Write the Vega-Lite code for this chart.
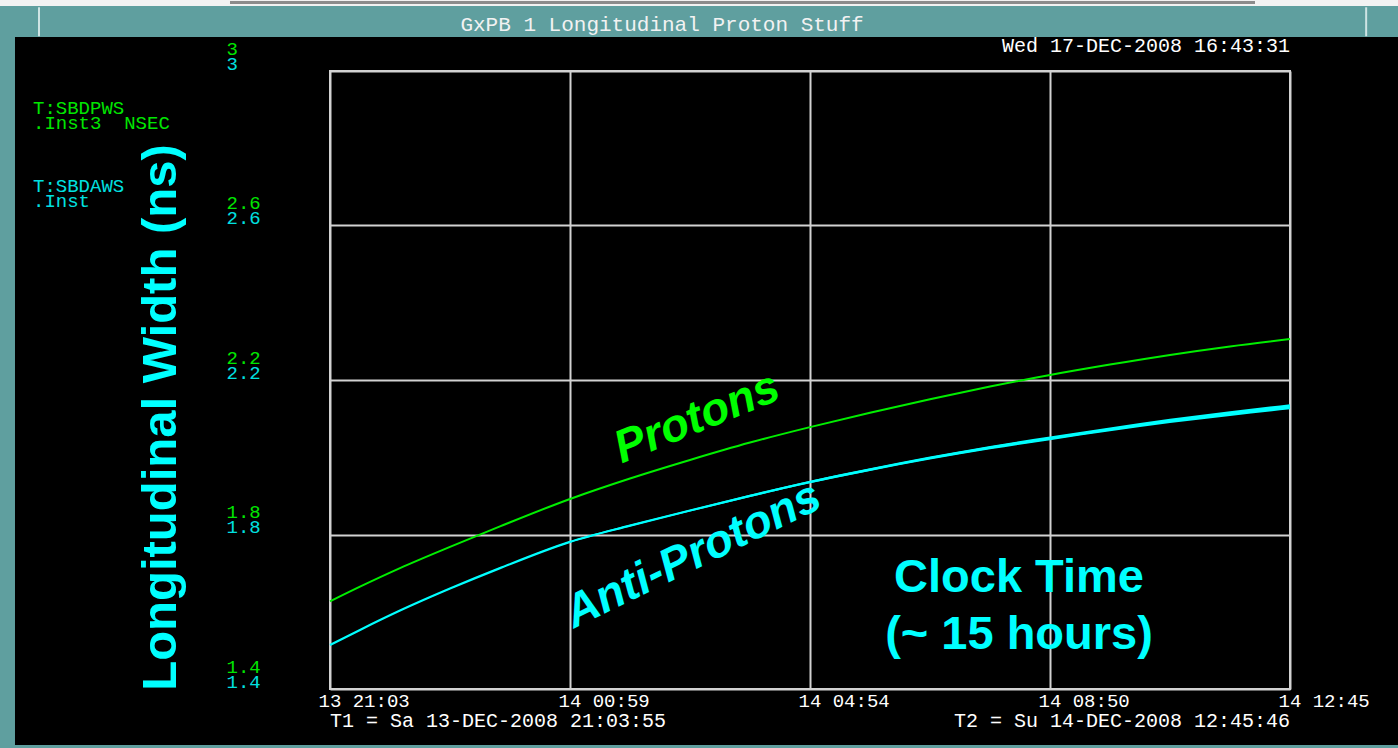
{
  "$schema": "https://vega.github.io/schema/vega-lite/v6.json",
  "width": 960,
  "height": 618,
  "autosize": {"type": "none"},
  "padding": {"left": 330, "top": 71, "right": 108, "bottom": 59},
  "background": "#000000",
  "config": {
    "view": {"stroke": "#d2d2d2", "strokeWidth": 2},
    "text": {"font": "Liberation Mono", "fontSize": 19}
  },
  "datasets": {
    "widths": [
      {"time": "2008-12-13T21:03:55Z", "beam": "Protons", "value": 1.627},
      {"time": "2008-12-13T21:33:21Z", "beam": "Protons", "value": 1.665},
      {"time": "2008-12-13T22:12:36Z", "beam": "Protons", "value": 1.713},
      {"time": "2008-12-13T23:01:39Z", "beam": "Protons", "value": 1.768},
      {"time": "2008-12-13T23:50:42Z", "beam": "Protons", "value": 1.821},
      {"time": "2008-12-14T00:59:23Z", "beam": "Protons", "value": 1.892},
      {"time": "2008-12-14T01:58:15Z", "beam": "Protons", "value": 1.945},
      {"time": "2008-12-14T02:57:07Z", "beam": "Protons", "value": 1.993},
      {"time": "2008-12-14T03:55:59Z", "beam": "Protons", "value": 2.038},
      {"time": "2008-12-14T04:54:51Z", "beam": "Protons", "value": 2.078},
      {"time": "2008-12-14T05:53:43Z", "beam": "Protons", "value": 2.115},
      {"time": "2008-12-14T06:52:35Z", "beam": "Protons", "value": 2.15},
      {"time": "2008-12-14T07:51:27Z", "beam": "Protons", "value": 2.183},
      {"time": "2008-12-14T08:50:18Z", "beam": "Protons", "value": 2.213},
      {"time": "2008-12-14T09:49:10Z", "beam": "Protons", "value": 2.24},
      {"time": "2008-12-14T10:48:02Z", "beam": "Protons", "value": 2.265},
      {"time": "2008-12-14T11:46:54Z", "beam": "Protons", "value": 2.287},
      {"time": "2008-12-14T12:45:46Z", "beam": "Protons", "value": 2.306},
      {"time": "2008-12-13T21:03:55Z", "beam": "Anti-Protons", "value": 1.514, "low": 1.514, "high": 1.514},
      {"time": "2008-12-13T21:33:21Z", "beam": "Anti-Protons", "value": 1.553, "low": 1.5527, "high": 1.5533},
      {"time": "2008-12-13T22:12:36Z", "beam": "Anti-Protons", "value": 1.603, "low": 1.6023, "high": 1.6037},
      {"time": "2008-12-13T23:01:39Z", "beam": "Anti-Protons", "value": 1.66, "low": 1.6592, "high": 1.6608},
      {"time": "2008-12-13T23:50:42Z", "beam": "Anti-Protons", "value": 1.713, "low": 1.712, "high": 1.714},
      {"time": "2008-12-14T00:59:23Z", "beam": "Anti-Protons", "value": 1.781, "low": 1.7793, "high": 1.7827},
      {"time": "2008-12-14T01:58:15Z", "beam": "Anti-Protons", "value": 1.823, "low": 1.821, "high": 1.825},
      {"time": "2008-12-14T02:57:07Z", "beam": "Anti-Protons", "value": 1.862, "low": 1.8596, "high": 1.8644},
      {"time": "2008-12-14T03:55:59Z", "beam": "Anti-Protons", "value": 1.9, "low": 1.897, "high": 1.903},
      {"time": "2008-12-14T04:54:51Z", "beam": "Anti-Protons", "value": 1.936, "low": 1.9326, "high": 1.9394},
      {"time": "2008-12-14T05:53:43Z", "beam": "Anti-Protons", "value": 1.968, "low": 1.9642, "high": 1.9718},
      {"time": "2008-12-14T06:52:35Z", "beam": "Anti-Protons", "value": 1.998, "low": 1.9939, "high": 2.0021},
      {"time": "2008-12-14T07:51:27Z", "beam": "Anti-Protons", "value": 2.025, "low": 2.0206, "high": 2.0294},
      {"time": "2008-12-14T08:50:18Z", "beam": "Anti-Protons", "value": 2.049, "low": 2.0443, "high": 2.0537},
      {"time": "2008-12-14T09:49:10Z", "beam": "Anti-Protons", "value": 2.072, "low": 2.067, "high": 2.077},
      {"time": "2008-12-14T10:48:02Z", "beam": "Anti-Protons", "value": 2.094, "low": 2.0885, "high": 2.0995},
      {"time": "2008-12-14T11:46:54Z", "beam": "Anti-Protons", "value": 2.113, "low": 2.107, "high": 2.119},
      {"time": "2008-12-14T12:45:46Z", "beam": "Anti-Protons", "value": 2.131, "low": 2.1245, "high": 2.1375}
    ]
  },
  "resolve": {"axis": {"x": "independent", "y": "independent"}},
  "layer": [
    {
      "data": {"name": "widths"},
      "transform": [{"filter": "datum.beam === 'Protons'"}],
      "mark": {"type": "line", "color": "#00ee00", "strokeWidth": 2, "interpolate": "monotone"},
      "encoding": {
        "x": {
          "field": "time",
          "type": "temporal",
          "scale": {
            "type": "utc",
            "domain": [
              {"year": 2008, "month": 12, "date": 13, "hours": 21, "minutes": 3, "seconds": 55, "utc": true},
              {"year": 2008, "month": 12, "date": 14, "hours": 12, "minutes": 45, "seconds": 46, "utc": true}
            ],
            "nice": false
          },
          "axis": {
            "orient": "bottom",
            "values": [
              {"year": 2008, "month": 12, "date": 13, "hours": 21, "minutes": 3, "seconds": 55, "utc": true},
              {"year": 2008, "month": 12, "date": 14, "hours": 0, "minutes": 59, "seconds": 22, "milliseconds": 750, "utc": true},
              {"year": 2008, "month": 12, "date": 14, "hours": 4, "minutes": 54, "seconds": 50, "milliseconds": 500, "utc": true},
              {"year": 2008, "month": 12, "date": 14, "hours": 8, "minutes": 50, "seconds": 18, "milliseconds": 250, "utc": true},
              {"year": 2008, "month": 12, "date": 14, "hours": 12, "minutes": 45, "seconds": 46, "utc": true}
            ],
            "format": "%d %H:%M",
            "grid": true,
            "gridColor": "#d2d2d2",
            "gridWidth": 2,
            "gridOpacity": 1,
            "domain": false,
            "ticks": false,
            "labelColor": "#ffffff",
            "labelFont": "Liberation Mono",
            "labelFontSize": 19,
            "labelAlign": "left",
            "labelBaseline": "middle",
            "labelOffset": -12,
            "labelPadding": 11,
            "labelFlush": false,
            "labelOverlap": false,
            "labelBound": false,
            "title": null
          }
        },
        "y": {
          "field": "value",
          "type": "quantitative",
          "scale": {"domain": [1.4, 3.0], "nice": false, "zero": false},
          "axis": {
            "orient": "left",
            "values": [1.4, 1.8, 2.2, 2.6, 3.0],
            "format": "~g",
            "grid": true,
            "gridColor": "#d2d2d2",
            "gridWidth": 2,
            "gridOpacity": 1,
            "domain": false,
            "ticks": false,
            "labelColor": "#00e600",
            "labelFont": "Liberation Mono",
            "labelFontSize": 19,
            "labelAlign": "left",
            "labelBaseline": "middle",
            "labelPadding": 104,
            "labelOffset": -23,
            "labelFlush": false,
            "labelOverlap": false,
            "labelBound": false,
            "title": "Longitudinal Width (ns)",
            "titleColor": "#00ffff",
            "titleFont": "Liberation Sans",
            "titleFontSize": 49,
            "titleFontWeight": "bold",
            "titleAngle": -90,
            "titleAlign": "center",
            "titleBaseline": "middle",
            "titleX": -170,
            "titleY": 346
          }
        }
      }
    },
    {
      "data": {"name": "widths"},
      "transform": [{"filter": "datum.beam === 'Anti-Protons'"}],
      "mark": {"type": "area", "color": "#00ffff", "interpolate": "monotone"},
      "encoding": {
        "x": {"field": "time", "type": "temporal", "axis": null},
        "y": {"field": "low", "type": "quantitative", "axis": null},
        "y2": {"field": "high"}
      }
    },
    {
      "data": {"name": "widths"},
      "transform": [{"filter": "datum.beam === 'Anti-Protons'"}],
      "mark": {"type": "line", "color": "#00ffff", "strokeWidth": 2.2, "interpolate": "monotone"},
      "encoding": {
        "x": {"field": "time", "type": "temporal", "axis": null},
        "y": {
          "field": "value",
          "type": "quantitative",
          "axis": {
            "orient": "left",
            "values": [1.4, 1.8, 2.2, 2.6, 3.0],
            "format": "~g",
            "grid": false,
            "domain": false,
            "ticks": false,
            "labelColor": "#00e0e0",
            "labelFont": "Liberation Mono",
            "labelFontSize": 19,
            "labelAlign": "left",
            "labelBaseline": "middle",
            "labelPadding": 104,
            "labelOffset": -8,
            "labelFlush": false,
            "labelOverlap": false,
            "labelBound": false,
            "title": null
          }
        }
      }
    },
    {
      "data": {"values": [{}]},
      "mark": {"type": "rect", "color": "#5f9f9f"},
      "encoding": {
        "x": {"datum": {"year": 2008, "month": 12, "date": 13, "hours": 12, "minutes": 43, "seconds": 55, "utc": true}, "type": "temporal", "axis": null},
        "x2": {"datum": {"year": 2008, "month": 12, "date": 14, "hours": 18, "minutes": 0, "seconds": 0, "utc": true}},
        "y": {"datum": 3.088, "type": "quantitative", "axis": null},
        "y2": {"datum": 3.168}
      }
    },
    {
      "data": {"values": [{}]},
      "mark": {"type": "rect", "color": "#f2f2f2"},
      "encoding": {
        "x": {"datum": {"year": 2008, "month": 12, "date": 13, "hours": 12, "minutes": 43, "seconds": 55, "utc": true}, "type": "temporal", "axis": null},
        "x2": {"datum": {"year": 2008, "month": 12, "date": 14, "hours": 18, "minutes": 0, "seconds": 0, "utc": true}},
        "y": {"datum": 3.168, "type": "quantitative", "axis": null},
        "y2": {"datum": 3.4}
      }
    },
    {
      "data": {"values": [{}]},
      "mark": {"type": "rect", "color": "#8c8c8c"},
      "encoding": {
        "x": {"datum": {"year": 2008, "month": 12, "date": 13, "hours": 19, "minutes": 25, "seconds": 48, "utc": true}, "type": "temporal", "axis": null},
        "x2": {"datum": {"year": 2008, "month": 12, "date": 14, "hours": 12, "minutes": 11, "seconds": 26, "utc": true}},
        "y": {"datum": 3.1735, "type": "quantitative", "axis": null},
        "y2": {"datum": 3.1812}
      }
    },
    {
      "data": {"values": [{}]},
      "mark": {"type": "rect", "color": "#cfe4e4"},
      "encoding": {
        "x": {"datum": {"year": 2008, "month": 12, "date": 13, "hours": 16, "minutes": 17, "seconds": 27, "utc": true}, "type": "temporal", "axis": null},
        "x2": {"datum": {"year": 2008, "month": 12, "date": 13, "hours": 16, "minutes": 19, "seconds": 25, "utc": true}},
        "y": {"datum": 3.09, "type": "quantitative", "axis": null},
        "y2": {"datum": 3.165}
      }
    },
    {
      "data": {"values": [{}]},
      "mark": {"type": "rect", "color": "#cfe4e4"},
      "encoding": {
        "x": {"datum": {"year": 2008, "month": 12, "date": 14, "hours": 13, "minutes": 59, "seconds": 30, "utc": true}, "type": "temporal", "axis": null},
        "x2": {"datum": {"year": 2008, "month": 12, "date": 14, "hours": 14, "minutes": 1, "seconds": 28, "utc": true}},
        "y": {"datum": 3.09, "type": "quantitative", "axis": null},
        "y2": {"datum": 3.165}
      }
    },
    {
      "data": {"values": [{}]},
      "mark": {"type": "rect", "color": "#5f9f9f"},
      "encoding": {
        "x": {"datum": {"year": 2008, "month": 12, "date": 13, "hours": 12, "minutes": 43, "seconds": 55, "utc": true}, "type": "temporal", "axis": null},
        "x2": {"datum": {"year": 2008, "month": 12, "date": 13, "hours": 15, "minutes": 54, "seconds": 52, "utc": true}},
        "y": {"datum": 1.1, "type": "quantitative", "axis": null},
        "y2": {"datum": 3.088}
      }
    },
    {
      "data": {"values": [{}]},
      "mark": {"type": "rect", "color": "#5f9f9f"},
      "encoding": {
        "x": {"datum": {"year": 2008, "month": 12, "date": 13, "hours": 12, "minutes": 43, "seconds": 55, "utc": true}, "type": "temporal", "axis": null},
        "x2": {"datum": {"year": 2008, "month": 12, "date": 14, "hours": 18, "minutes": 0, "seconds": 0, "utc": true}},
        "y": {"datum": 1.1, "type": "quantitative", "axis": null},
        "y2": {"datum": 1.255}
      }
    },
    {
      "data": {"values": [{}]},
      "mark": {"type": "text", "text": "GxPB 1 Longitudinal Proton Stuff", "color": "#f2f2f2", "fontSize": 21, "align": "center", "baseline": "middle"},
      "encoding": {
        "x": {"datum": {"year": 2008, "month": 12, "date": 14, "hours": 2, "minutes": 29, "seconds": 39, "utc": true}, "type": "temporal", "axis": null},
        "y": {"datum": 3.119, "type": "quantitative", "axis": null}
      }
    },
    {
      "data": {"values": [{}]},
      "mark": {"type": "text", "text": "Wed 17-DEC-2008 16:43:31", "color": "#ffffff", "fontSize": 20, "align": "right", "baseline": "middle"},
      "encoding": {
        "x": {"datum": {"year": 2008, "month": 12, "date": 14, "hours": 12, "minutes": 45, "seconds": 46, "utc": true}, "type": "temporal", "axis": null},
        "y": {"datum": 3.065, "type": "quantitative", "axis": null}
      }
    },
    {
      "data": {"values": [{}]},
      "mark": {"type": "text", "text": ["T:SBDPWS", ".Inst3\u00a0 NSEC"], "color": "#00e600", "align": "left", "baseline": "middle", "lineHeight": 15},
      "encoding": {
        "x": {"datum": {"year": 2008, "month": 12, "date": 13, "hours": 16, "minutes": 12, "seconds": 32, "utc": true}, "type": "temporal", "axis": null},
        "y": {"datum": 2.904, "type": "quantitative", "axis": null}
      }
    },
    {
      "data": {"values": [{}]},
      "mark": {"type": "text", "text": ["T:SBDAWS", ".Inst"], "color": "#00e0e0", "align": "left", "baseline": "middle", "lineHeight": 15},
      "encoding": {
        "x": {"datum": {"year": 2008, "month": 12, "date": 13, "hours": 16, "minutes": 12, "seconds": 32, "utc": true}, "type": "temporal", "axis": null},
        "y": {"datum": 2.702, "type": "quantitative", "axis": null}
      }
    },
    {
      "data": {"values": [{}]},
      "mark": {"type": "text", "text": "T1 = Sa 13-DEC-2008 21:03:55", "color": "#ffffff", "fontSize": 20, "align": "left", "baseline": "middle"},
      "encoding": {
        "x": {"datum": {"year": 2008, "month": 12, "date": 13, "hours": 21, "minutes": 3, "seconds": 55, "utc": true}, "type": "temporal", "axis": null},
        "y": {"datum": 1.317, "type": "quantitative", "axis": null}
      }
    },
    {
      "data": {"values": [{}]},
      "mark": {"type": "text", "text": "T2 = Su 14-DEC-2008 12:45:46", "color": "#ffffff", "fontSize": 20, "align": "right", "baseline": "middle"},
      "encoding": {
        "x": {"datum": {"year": 2008, "month": 12, "date": 14, "hours": 12, "minutes": 45, "seconds": 46, "utc": true}, "type": "temporal", "axis": null},
        "y": {"datum": 1.317, "type": "quantitative", "axis": null}
      }
    },
    {
      "data": {"values": [{}]},
      "mark": {"type": "text", "text": "Protons", "color": "#00ff00", "font": "Liberation Sans", "fontSize": 46, "fontWeight": "bold", "fontStyle": "italic", "angle": -22, "align": "center", "baseline": "middle"},
      "encoding": {
        "x": {"datum": {"year": 2008, "month": 12, "date": 14, "hours": 3, "minutes": 3, "seconds": 59, "utc": true}, "type": "temporal", "axis": null},
        "y": {"datum": 2.102, "type": "quantitative", "axis": null}
      }
    },
    {
      "data": {"values": [{}]},
      "mark": {"type": "text", "text": "Anti-Protons", "color": "#00ffff", "font": "Liberation Sans", "fontSize": 46, "fontWeight": "bold", "fontStyle": "italic", "angle": -26, "align": "center", "baseline": "middle"},
      "encoding": {
        "x": {"datum": {"year": 2008, "month": 12, "date": 14, "hours": 3, "minutes": 0, "seconds": 3, "utc": true}, "type": "temporal", "axis": null},
        "y": {"datum": 1.747, "type": "quantitative", "axis": null}
      }
    },
    {
      "data": {"values": [{}]},
      "mark": {"type": "text", "text": ["Clock Time", "(~ 15 hours)"], "color": "#00ffff", "font": "Liberation Sans", "fontSize": 47, "fontWeight": "bold", "lineHeight": 57, "align": "center", "baseline": "middle"},
      "encoding": {
        "x": {"datum": {"year": 2008, "month": 12, "date": 14, "hours": 8, "minutes": 19, "seconds": 54, "utc": true}, "type": "temporal", "axis": null},
        "y": {"datum": 1.687, "type": "quantitative", "axis": null}
      }
    }
  ]
}
